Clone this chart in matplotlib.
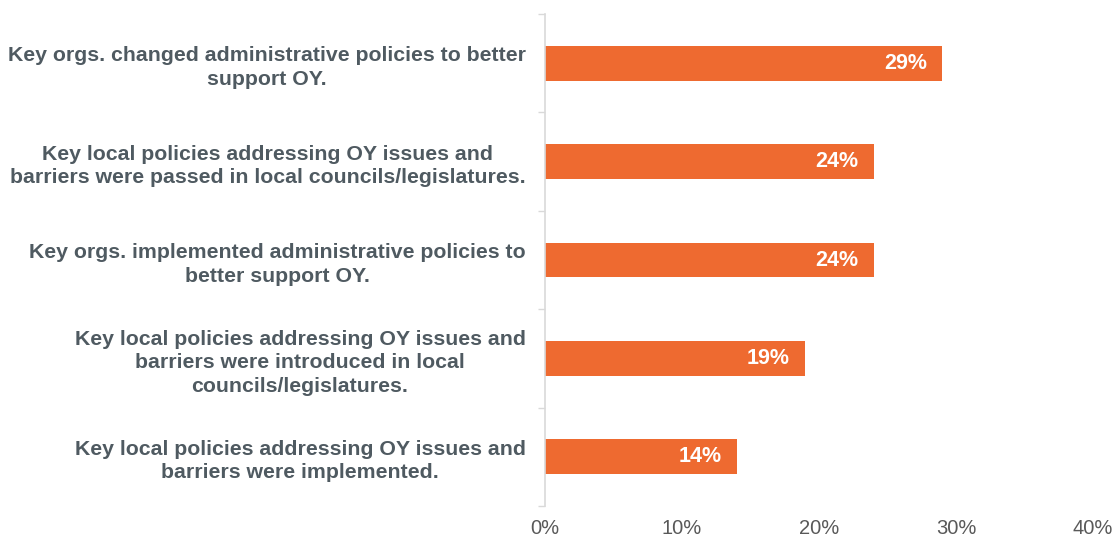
import matplotlib
matplotlib.use("Agg")
import matplotlib.pyplot as plt
from matplotlib.ticker import FixedLocator

plt.rcParams['font.family'] = ['Liberation Sans', 'DejaVu Sans']

categories = [
    "Key orgs. changed administrative policies to better\nsupport OY.",
    "Key local policies addressing OY issues and\nbarriers were passed in local councils/legislatures.",
    "Key orgs. implemented administrative policies to\nbetter support OY.",
    "Key local policies addressing OY issues and\nbarriers were introduced in local\ncouncils/legislatures.",
    "Key local policies addressing OY issues and\nbarriers were implemented.",
]
values = [0.29, 0.24, 0.24, 0.19, 0.14]
value_labels = ["29%", "24%", "24%", "19%", "14%"]
xticks = [0, 0.1, 0.2, 0.3, 0.4]
xtick_labels = ["0%", "10%", "20%", "30%", "40%"]

bar_color = "#EE6A30"
label_color = "#4f5a61"
tick_color = "#595959"
axis_color = "#d9d9d9"

fig = plt.figure(figsize=(11.16, 5.39), dpi=100)
ax = fig.add_axes([545/1116, 1 - 506/539, (1093-545)/1116, (506-14)/539])

ypos = list(range(len(categories)))
ax.barh(ypos, values, height=0.355, color=bar_color)
ax.set_ylim(len(categories) - 0.5, -0.5)
ax.set_xlim(0, 0.4)

for y, v, lab in zip(ypos, values, value_labels):
    ax.annotate(lab, xy=(v, y), xytext=(-11, 0), textcoords="offset points",
                ha="right", va="center", color="white", fontsize=15.5, fontweight="bold")

ax.set_yticks(ypos)
ax.set_yticklabels(categories, fontsize=15.3, fontweight="bold", color=label_color,
                   multialignment="center", linespacing=1.3)
ax.tick_params(axis="y", which="major", length=0, pad=14)
ax.yaxis.set_minor_locator(FixedLocator([i - 0.5 for i in range(len(categories) + 1)]))
ax.tick_params(axis="y", which="minor", length=5, color=axis_color, width=1)

ax.set_xticks(xticks)
ax.set_xticklabels(xtick_labels, fontsize=14.5, color=tick_color)
ax.tick_params(axis="x", length=0, pad=9)

for s in ["top", "right", "bottom"]:
    ax.spines[s].set_visible(False)
ax.spines["left"].set_color(axis_color)
ax.spines["left"].set_linewidth(1.2)

fig.savefig("out.png", dpi=100)
